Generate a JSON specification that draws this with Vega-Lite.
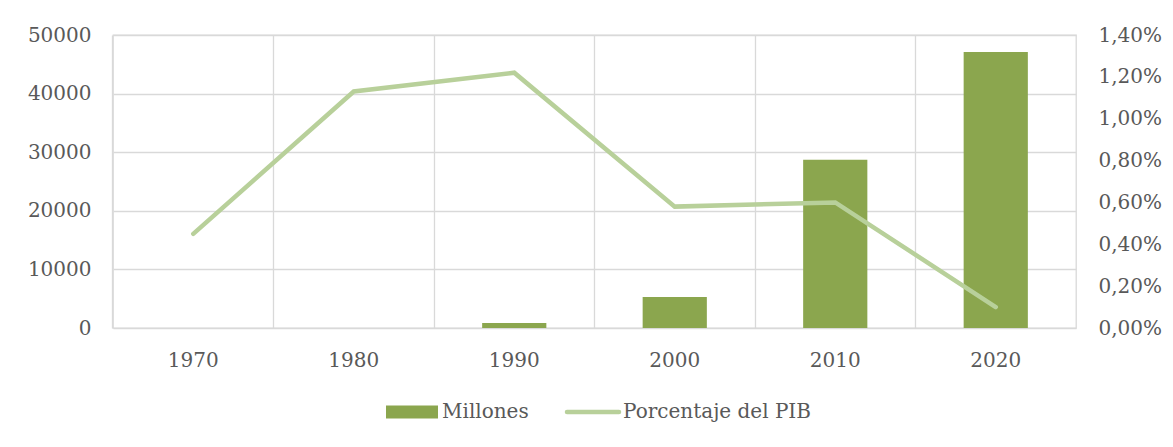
{
  "$schema": "https://vega.github.io/schema/vega-lite/v6.json",
  "width": 963,
  "height": 293,
  "autosize": {"type": "none"},
  "padding": {"left": 113, "top": 35, "right": 97, "bottom": 119},
  "background": "white",
  "config": {
    "locale": {"number": {"decimal": ",", "thousands": ".", "grouping": [3], "currency": ["", " €"]}},
    "view": {"stroke": "#D9D9D9", "strokeWidth": 1.3},
    "font": "DejaVu Serif",
    "axis": {
      "labelFont": "DejaVu Serif",
      "labelFontSize": 20,
      "labelColor": "#595959",
      "gridColor": "#D9D9D9",
      "gridWidth": 1.3,
      "ticks": false,
      "domain": false,
      "title": null
    }
  },
  "data": {
    "values": [
      {"year": "1970", "millones": 0, "pib": 0.0045},
      {"year": "1980", "millones": 0, "pib": 0.0113},
      {"year": "1990", "millones": 850, "pib": 0.0122},
      {"year": "2000", "millones": 5300, "pib": 0.0058},
      {"year": "2010", "millones": 28700, "pib": 0.0060},
      {"year": "2020", "millones": 47100, "pib": 0.0010}
    ]
  },
  "encoding": {
    "x": {
      "field": "year",
      "type": "ordinal",
      "scale": {"paddingInner": 0.6, "paddingOuter": 0.3},
      "axis": {"bandPosition": -0.75, "grid": true, "labelAngle": 0, "labelPadding": 22}
    }
  },
  "layer": [
    {
      "mark": {"type": "bar"},
      "encoding": {
        "y": {
          "field": "millones",
          "type": "quantitative",
          "scale": {"domain": [0, 50000]},
          "axis": {"values": [0, 10000, 20000, 30000, 40000, 50000], "format": "d", "labelPadding": 22, "grid": true}
        },
        "color": {
          "datum": "Millones",
          "type": "nominal",
          "scale": {"domain": ["Millones", "Porcentaje del PIB"], "range": ["#8BA64E", "#B8D09A"]},
          "legend": {
            "orient": "none",
            "legendX": 289,
            "legendY": 367,
            "direction": "horizontal",
            "title": null,
            "labelFont": "DejaVu Serif",
            "labelFontSize": 20,
            "labelColor": "#595959",
            "labelLimit": 400,
            "labelOffset": 20,
            "columnPadding": 29,
            "symbolSize": 2704,
            "encode": {
              "symbols": {
                "update": {
                  "shape": {"signal": "datum.value == 'Millones' ? 'M-1,-0.25H1V0.25H-1Z' : 'M-1,0H1'"},
                  "fill": {"signal": "datum.value == 'Millones' ? '#8BA64E' : 'transparent'"},
                  "stroke": {"signal": "datum.value == 'Millones' ? 'transparent' : '#B8D09A'"},
                  "strokeWidth": {"signal": "datum.value == 'Millones' ? 0 : 4.5"},
                  "strokeCap": {"value": "round"},
                  "opacity": {"value": 1}
                }
              }
            }
          }
        }
      }
    },
    {
      "mark": {"type": "line", "strokeWidth": 4.5, "strokeCap": "round", "strokeJoin": "miter"},
      "encoding": {
        "y": {
          "field": "pib",
          "type": "quantitative",
          "scale": {"domain": [0, 0.014]},
          "axis": {"orient": "right", "values": [0, 0.002, 0.004, 0.006, 0.008, 0.01, 0.012, 0.014], "format": ".2%", "labelPadding": 22, "grid": false}
        },
        "color": {"datum": "Porcentaje del PIB", "type": "nominal"}
      }
    }
  ],
  "resolve": {"scale": {"y": "independent"}}
}
